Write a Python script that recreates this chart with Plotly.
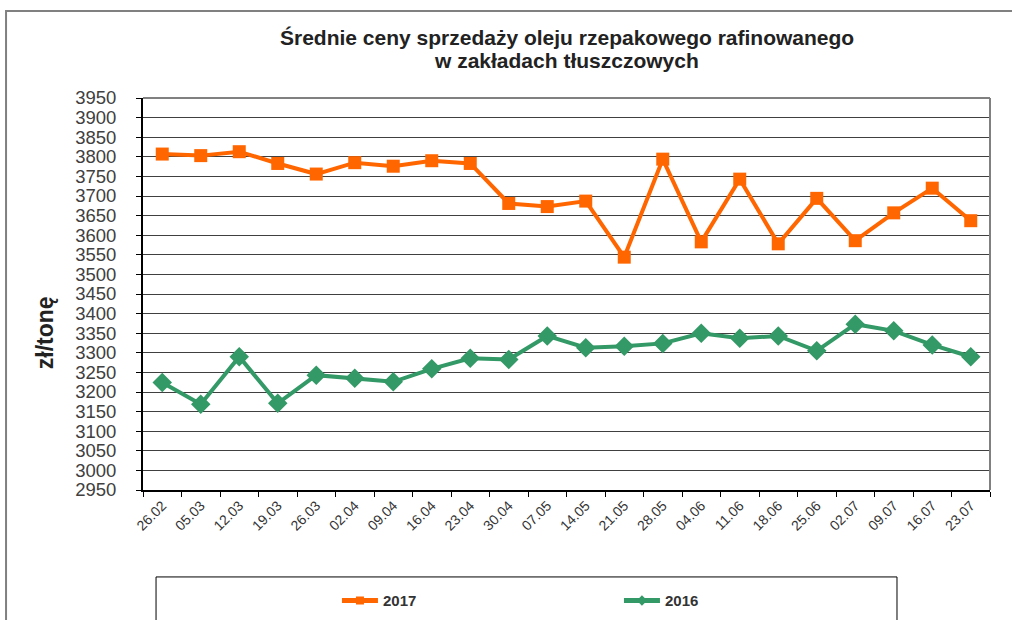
import plotly.graph_objects as go

dates = ["26.02", "05.03", "12.03", "19.03", "26.03", "02.04", "09.04", "16.04",
         "23.04", "30.04", "07.05", "14.05", "21.05", "28.05", "04.06", "11.06",
         "18.06", "25.06", "02.07", "09.07", "16.07", "23.07"]
y2017 = [3807, 3803, 3813, 3783, 3756, 3785, 3776, 3790, 3783, 3681, 3673, 3687,
         3544, 3794, 3583, 3743, 3578, 3694, 3586, 3657, 3720, 3637]
y2016 = [3224, 3169, 3290, 3171, 3243, 3235, 3226, 3259, 3286, 3283, 3343, 3313,
         3317, 3324, 3350, 3337, 3343, 3305, 3373, 3356, 3320, 3290]
yticks = list(range(2950, 3951, 50))
title_lines = ["Średnie ceny sprzedaży oleju rzepakowego rafinowanego",
               "w zakładach tłuszczowych"]

fig = go.Figure()
fig.add_trace(go.Scatter(x=dates, y=y2017, name="2017", mode="lines+markers", showlegend=False,
                         line=dict(color="#FF6600", width=4),
                         marker=dict(symbol="square", size=13, color="#FF6600")))
fig.add_trace(go.Scatter(x=dates, y=y2016, name="2016", mode="lines+markers", showlegend=False,
                         line=dict(color="#339966", width=4),
                         marker=dict(symbol="diamond", size=15, color="#339966")))
# legend entries with smaller symbols, as in the reference legend
fig.add_trace(go.Scatter(x=[None], y=[None], name="2017", mode="lines+markers",
                         line=dict(color="#FF6600", width=5),
                         marker=dict(symbol="square", size=8, color="#FF6600")))
fig.add_trace(go.Scatter(x=[None], y=[None], name="2016", mode="lines+markers",
                         line=dict(color="#339966", width=5),
                         marker=dict(symbol="diamond", size=8, color="#339966")))

fig.update_layout(
    width=1012, height=620,
    paper_bgcolor="white", plot_bgcolor="white",
    margin=dict(l=143, r=22, t=98, b=130, autoexpand=False),
    font=dict(family="Liberation Sans, Arial, sans-serif", color="#333333"),
    xaxis=dict(type="category", tickangle=-45, tickfont=dict(size=14, color="#333333"),
               ticks="outside", tickson="boundaries", ticklen=5, tickcolor="#000000",
               showline=True, linecolor="#000000", linewidth=2, mirror=False,
               showgrid=False, range=[-0.5, 21.5], automargin=False),
    yaxis=dict(range=[2950, 3950], tickvals=yticks, ticktext=[str(v) for v in yticks],
               tickfont=dict(size=18.5, color="#404040"),
               ticks="outside", ticklen=5, tickcolor="#000000", ticklabelstandoff=16,
               showline=True, linecolor="#000000", linewidth=2,
               showgrid=True, gridcolor="#404040", gridwidth=1, automargin=False),
    showlegend=True,
    legend=dict(orientation="h", x=0.229, xanchor="left", xref="paper",
                y=0.031, yanchor="middle", yref="container",
                font=dict(size=15, color="#333333", weight="bold"),
                entrywidth=231, itemwidth=36, bgcolor="rgba(0,0,0,0)"),
    annotations=[
        dict(text="<b>zł/tonę</b>", textangle=-90, xref="paper", yref="paper",
             x=-0.1157, y=0.40, xanchor="center", yanchor="middle", showarrow=False,
             font=dict(size=23, color="#222222")),
        dict(text="<b>" + title_lines[0] + "</b>", xref="paper", yref="paper",
             x=0.5, y=(490 - 38) / 392, xanchor="center", yanchor="middle", showarrow=False,
             font=dict(size=21, color="#222222")),
        dict(text="<b>" + title_lines[1] + "</b>", xref="paper", yref="paper",
             x=0.5, y=(490 - 60) / 392, xanchor="center", yanchor="middle", showarrow=False,
             font=dict(size=21, color="#222222")),
    ],
)

shapes = [
    # outer chart frame (top and left visible)
    dict(type="rect", xref="paper", yref="paper", x0=-0.1617, x1=1.04, y0=-0.5, y1=1.2219,
         line=dict(color="#808080", width=2), layer="below"),
    # plot area top/right border
    dict(type="line", xref="paper", yref="paper", x0=0, x1=1, y0=1, y1=1,
         line=dict(color="#808080", width=2)),
    dict(type="line", xref="paper", yref="paper", x0=1, x1=1, y0=0, y1=1,
         line=dict(color="#808080", width=2)),
    # legend box
    dict(type="rect", xref="paper", yref="paper", x0=0.0154, x1=0.8902, y0=-0.40, y1=-0.2218,
         line=dict(color="#000000", width=1), layer="below"),
]
fig.update_layout(shapes=shapes)

fig.write_html("out.html", config={"displayModeBar": False},
               post_script="document.body.style.margin='0';")
